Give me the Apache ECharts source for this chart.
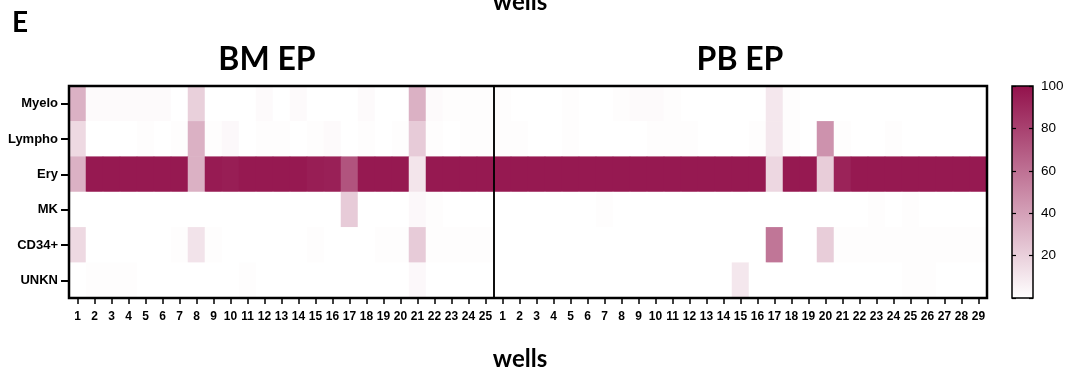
<!DOCTYPE html>
<html>
<head>
<meta charset="utf-8">
<script src="https://cdn.jsdelivr.net/npm/echarts@6/dist/echarts.min.js"></script>
<style>
  html, body { margin: 0; padding: 0; background: #fff; }
  #chart { width: 1068px; height: 374px; }
</style>
</head>
<body>
<div id="chart"></div>
<script>
// Row categories (cell lineage) and well labels for each plate
const cellTypes = ['Myelo', 'Lympho', 'Ery', 'MK', 'CD34+', 'UNKN'];
const bmWells = ['1','2','3','4','5','6','7','8','9','10','11','12','13','14','15','16','17','18','19','20','21','22','23','24','25'];
const pbWells = ['1','2','3','4','5','6','7','8','9','10','11','12','13','14','15','16','17','18','19','20','21','22','23','24','25','26','27','28','29'];

// BM EP: percentage of each lineage per well
const bmMyelo  = [33, 2, 2, 2, 2, 2, 0, 20, 0, 0, 0, 2, 0, 2, 0, 0, 0, 2, 0, 0, 33, 2, 1, 1, 1];
const bmLympho = [16, 0, 0, 0, 1, 0, 1, 33, 1, 3, 0, 1, 1, 0, 1, 2, 0, 1, 0, 1, 22, 1, 0, 1, 1];
const bmEry    = [33, 97, 97, 97, 97, 97, 97, 33, 96, 95, 97, 97, 97, 97, 95, 94, 72, 97, 97, 97, 11, 97, 97, 97, 97];
const bmMK     = [0, 0, 0, 0, 0, 0, 0, 0, 0, 0, 0, 0, 0, 0, 0, 0, 22, 0, 0, 0, 3, 1, 0, 0, 0];
const bmCD34   = [16, 0, 0, 0, 0, 0, 1, 12, 1, 0, 0, 0, 0, 0, 1, 0, 0, 0, 1, 1, 22, 1, 1, 1, 1];
const bmUNKN   = [0, 1, 1, 1, 0, 0, 0, 0, 0, 0, 1, 0, 0, 0, 0, 0, 0, 0, 0, 0, 3, 0, 0, 0, 0];

// PB EP: percentage of each lineage per well
const pbMyelo  = [1, 0, 0, 0, 1, 0, 0, 1, 2, 2, 1, 0, 0, 0, 0, 0, 10, 1, 0, 0, 0, 0, 0, 0, 0, 0, 0, 0, 0];
const pbLympho = [1, 1, 0, 0, 1, 0, 0, 0, 0, 1, 1, 1, 0, 0, 0, 1, 10, 1, 0, 46, 1, 0, 0, 1, 0, 0, 0, 0, 0];
const pbEry    = [97, 97, 97, 97, 97, 97, 97, 97, 97, 97, 97, 97, 97, 97, 97, 97, 17, 97, 97, 21, 93, 97, 97, 97, 97, 97, 97, 97, 97];
const pbMK     = [0, 0, 0, 0, 0, 0, 1, 0, 0, 0, 0, 0, 0, 0, 0, 0, 0, 0, 0, 0, 0, 0, 1, 0, 1, 0, 0, 0, 0];
const pbCD34   = [0, 0, 0, 0, 0, 0, 0, 0, 0, 0, 0, 0, 0, 0, 0, 0, 58, 0, 0, 21, 1, 1, 1, 1, 1, 1, 1, 1, 1];
const pbUNKN   = [0, 0, 0, 0, 0, 0, 0, 0, 0, 0, 0, 0, 0, 0, 10, 0, 0, 0, 0, 0, 0, 0, 0, 0, 1, 1, 0, 0, 0];

// Colour scale range and its labelled ticks
const scaleMin = 0;
const scaleMax = 100;
const scaleStep = 20;

const lowColor = '#ffffff';
const highColor = '#93124c';

function toCells(rows) {
  const cells = [];
  rows.forEach((row, r) => row.forEach((v, c) => cells.push([c, r, v])));
  return cells;
}
const bmData = toCells([bmMyelo, bmLympho, bmEry, bmMK, bmCD34, bmUNKN]);
const pbData = toCells([pbMyelo, pbLympho, pbEry, pbMK, pbCD34, pbUNKN]);

const tickFont = '"Liberation Sans", Arial, sans-serif';
const headFont = 'Lato, "Open Sans", sans-serif';

const xAxisStyle = (grid, labels) => ({
  gridIndex: grid, type: 'category', data: labels, position: 'bottom', z: 5,
  axisLine: { show: false },
  axisTick: { show: true, alignWithLabel: true, length: 6, lineStyle: { color: '#000', width: 1.5 } },
  axisLabel: { interval: 0, margin: 13, fontSize: 12, fontWeight: 'bold', color: '#000', fontFamily: tickFont },
  splitLine: { show: false }
});

const chart = echarts.init(document.getElementById('chart'));
chart.setOption({
  animation: false,
  backgroundColor: '#fff',
  grid: [
    { left: 69, top: 86, width: 425, height: 212, show: true, borderColor: '#000', borderWidth: 1.5, backgroundColor: 'transparent', z: 5 },
    { left: 494, top: 86, width: 493, height: 212, show: true, borderColor: '#000', borderWidth: 1.5, backgroundColor: 'transparent', z: 5 },
    { left: 1012, top: 86, width: 21, height: 212, show: true, borderColor: '#000', borderWidth: 1.5, backgroundColor: 'transparent', z: 5 },
    { left: 69, top: 86, width: 918, height: 212, show: true, borderColor: '#000', borderWidth: 2.5, backgroundColor: 'transparent', z: 6 }
  ],
  xAxis: [
    xAxisStyle(0, bmWells),
    xAxisStyle(1, pbWells),
    { gridIndex: 2, type: 'category', data: ['scale'], show: false },
    { gridIndex: 3, type: 'value', show: false }
  ],
  yAxis: [
    {
      gridIndex: 0, type: 'category', data: cellTypes, inverse: true, z: 5,
      axisLine: { show: false },
      axisTick: { show: true, alignWithLabel: true, length: 8, lineStyle: { color: '#000', width: 2 } },
      axisLabel: { margin: 11, fontSize: 13, fontWeight: 'bold', color: '#000', fontFamily: tickFont },
      splitLine: { show: false }
    },
    { gridIndex: 1, type: 'category', data: cellTypes, inverse: true, show: false },
    {
      gridIndex: 2, type: 'value', min: scaleMin, max: scaleMax, interval: scaleStep, position: 'right', z: 5,
      axisLine: { show: false },
      axisTick: { show: true, inside: true, length: 4, lineStyle: { color: '#000', width: 1.2 } },
      axisLabel: { margin: 8, fontSize: 13.5, color: '#000', fontFamily: tickFont,
                   formatter: v => (v === scaleMin ? '' : String(v)) },
      splitLine: { show: false }
    },
    {
      gridIndex: 2, type: 'value', min: scaleMin, max: scaleMax, interval: scaleStep, position: 'left', z: 5,
      axisLine: { show: false },
      axisTick: { show: true, inside: true, length: 4, lineStyle: { color: '#000', width: 1.2 } },
      axisLabel: { show: false },
      splitLine: { show: false }
    },
    { gridIndex: 3, type: 'value', show: false }
  ],
  visualMap: {
    type: 'continuous', show: false, min: scaleMin, max: scaleMax, seriesIndex: [0, 1],
    inRange: { color: [lowColor, highColor] }
  },
  series: [
    { type: 'heatmap', xAxisIndex: 0, yAxisIndex: 0, data: bmData, silent: true, itemStyle: { borderWidth: 0 } },
    { type: 'heatmap', xAxisIndex: 1, yAxisIndex: 1, data: pbData, silent: true, itemStyle: { borderWidth: 0 } },
    {
      type: 'bar', xAxisIndex: 2, yAxisIndex: 2, data: [scaleMax], barWidth: '100%', silent: true,
      itemStyle: {
        color: new echarts.graphic.LinearGradient(0, 0, 0, 1, [
          { offset: 0, color: highColor },
          { offset: 1, color: lowColor }
        ])
      }
    }
  ],
  graphic: [
    { type: 'text', x: 12, y: 23, style: { text: 'E', font: 'bold 28px ' + headFont, fill: '#000', verticalAlign: 'middle' } },
    { type: 'text', x: 520, y: 2, style: { text: 'wells', font: 'bold 24px ' + headFont, fill: '#000', align: 'center', verticalAlign: 'middle' } },
    { type: 'text', x: 267, y: 60, style: { text: 'BM EP', font: 'bold 32px ' + headFont, fill: '#000', align: 'center', verticalAlign: 'middle' } },
    { type: 'text', x: 740, y: 60, style: { text: 'PB EP', font: 'bold 32px ' + headFont, fill: '#000', align: 'center', verticalAlign: 'middle' } },
    { type: 'text', x: 520, y: 359, style: { text: 'wells', font: 'bold 24px ' + headFont, fill: '#000', align: 'center', verticalAlign: 'middle' } }
  ]
});
</script>
</body>
</html>
